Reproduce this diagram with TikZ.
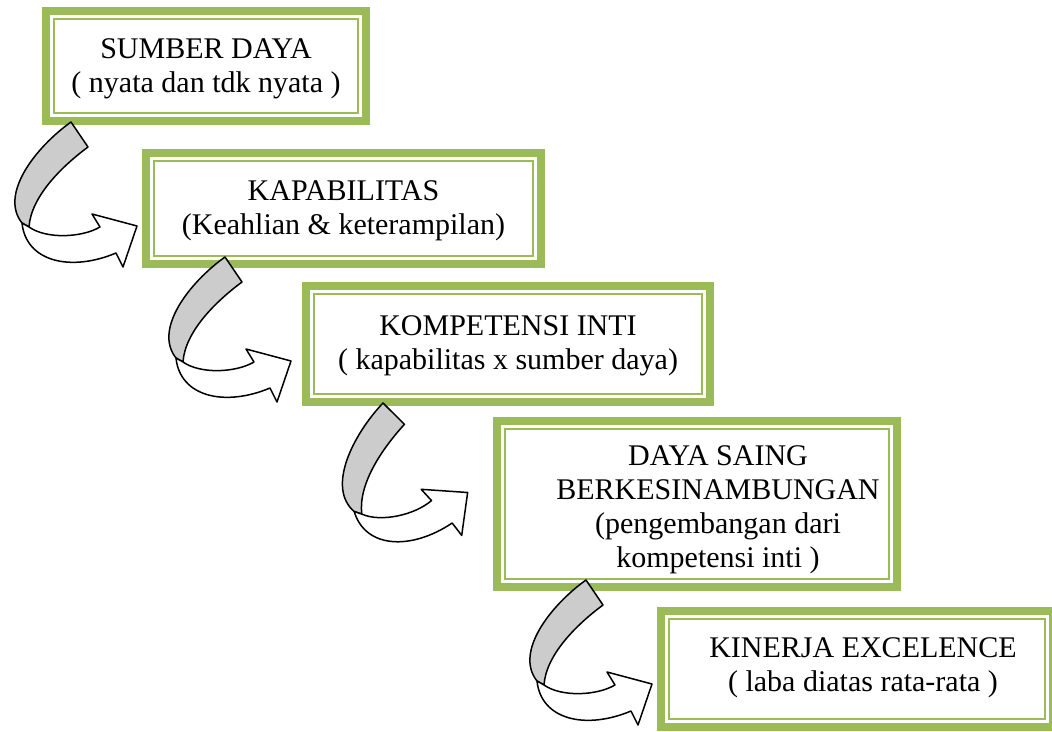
\documentclass[tikz,border=0pt]{standalone}
\usepackage{fontspec}
\setmainfont{Liberation Serif}
\definecolor{stagegreen}{HTML}{9BBB59}
\definecolor{twistgray}{HTML}{CCCCCC}
\tikzset{
  stage/.style={draw=stagegreen, line width=8pt, fill=white, inner sep=0pt},
  stagetext/.style={align=center, inner sep=0pt, font=\fontsize{30}{34}\selectfont},
  innerline/.style={draw=stagegreen, line width=2pt},
  bendarrow/.pic={
    \draw[line width=1.5pt, line join=round, fill=twistgray] (0,0) -- (17,25)
      .. controls (-10,45) and (-40,75) .. (-42,105) -- (-49,101)
      .. controls (-72,72) and (-35,25) .. cycle;
    \draw[line width=1.5pt, line join=round, fill=white] (-49,101)
      .. controls (-45,140) and (0,150) .. (45,131) -- (52,145) -- (66,104)
      -- (21,92) -- (29,105) .. controls (10,116) and (-25,117) .. (-42,105) -- cycle;
  }
}

\begin{document}
\begin{tikzpicture}[x=1pt,y=-1pt]
    \clip (0,0) rectangle (1052,731);
    \fill[white] (0,0) rectangle (1052,731);

    % the five stages
    \node[stage, minimum width=320pt, minimum height=110pt] (b1) at (206,66) {};
    \node[stage, minimum width=395pt, minimum height=111pt] (b2) at (343.5,208.5) {};
    \node[stage, minimum width=404pt, minimum height=116pt] (b3) at (508,344) {};
    \node[stage, minimum width=400pt, minimum height=166pt] (b4) at (697,504) {};
    \node[stage, minimum width=392pt, minimum height=116pt] (b5) at (857,669) {};
    \foreach \b in {b1,b2,b3,b4,b5}
        \draw[innerline] ([xshift=12pt,yshift=-12pt]\b.north west) rectangle ([xshift=-12pt,yshift=12pt]\b.south east);

    \node[stagetext] (t1) at ([yshift=-3pt]b1.center) {SUMBER DAYA\\( nyata dan tdk nyata )};
    \node[stagetext] (t2) at ([yshift=-2pt]b2.center) {KAPABILITAS\\(Keahlian \& keterampilan)};
    \node[stagetext] (t3) at ([yshift=-2pt]b3.center) {KOMPETENSI INTI\\( kapabilitas x sumber daya)};
    \node[stagetext] (t4) at ([xshift=21pt,yshift=-6pt]b4.center) {DAYA SAING\\BERKESINAMBUNGAN\\(pengembangan dari\\kompetensi inti )};
    \node[stagetext] (t5) at ([xshift=6pt,yshift=1pt]b5.center) {KINERJA EXCELENCE\\( laba diatas rata-rata )};

    % curved arrows between the stages
    \pic at (71,122) {bendarrow};
    \pic at (225,257) {bendarrow};
    \pic[rotate=11] at (383,403) {bendarrow};
    \pic at (586,580) {bendarrow};
\end{tikzpicture}
\end{document}
